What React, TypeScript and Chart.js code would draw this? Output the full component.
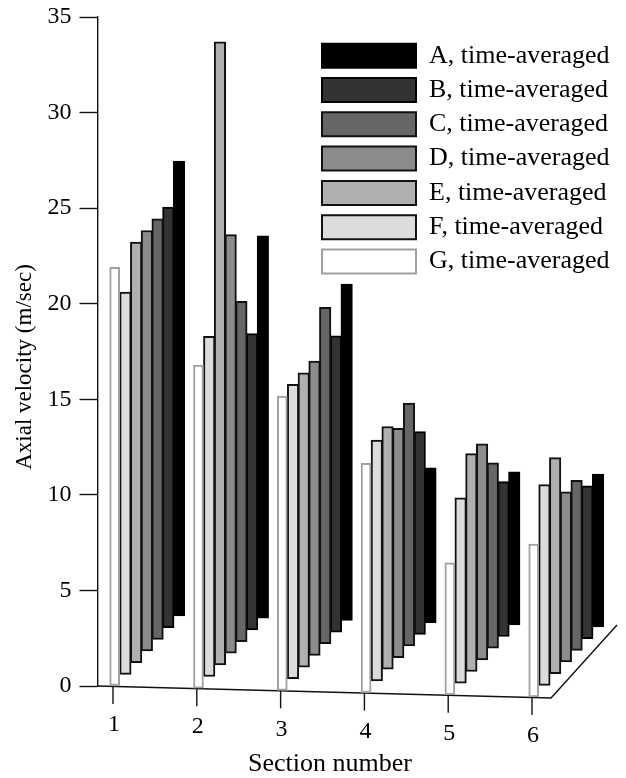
import React, { useEffect, useRef } from "react";
import { Chart, registerables } from "chart.js";

Chart.register(...registerables);

const sections = [1, 2, 3, 4, 5, 6];
const seriesNames = ["A", "B", "C", "D", "E", "F", "G"];
const seriesA = [23.8, 20.0, 17.6, 8.1, 8.0, 8.0];
const seriesB = [22.0, 15.5, 15.5, 10.6, 8.1, 8.0];
const seriesC = [22.0, 17.8, 17.6, 12.7, 9.7, 8.9];
const seriesD = [22.0, 21.9, 15.4, 12.0, 11.3, 8.9];
const seriesE = [22.0, 32.6, 15.4, 12.7, 11.4, 11.3];
const seriesF = [20.0, 17.8, 15.4, 12.6, 9.7, 10.5];
const seriesG = [21.9, 16.9, 15.4, 12.0, 6.9, 8.0];
const allSeries = [seriesA, seriesB, seriesC, seriesD, seriesE, seriesF, seriesG];
const fills = ["#000000", "#333333", "#666666", "#8c8c8c", "#b0b0b0", "#dcdcdc", "#ffffff"];
const borders = ["#000000", "#000000", "#111111", "#111111", "#111111", "#111111", "#a0a0a0"];

// oblique projection of the 3-D plot onto the flat scales
const DEPTH_DX = 0.128;
const DEPTH_DY = 0.61;
const SECTION_DROP = 0.115;
const FRONT_DX = 0.02;

const floorAt = (section: number, depth: number) => DEPTH_DY * depth - SECTION_DROP * (section - 1);

const SERIF = "'Liberation Serif', 'Times New Roman', serif";

const perspective = {
  id: "perspective",
  afterLayout(chart: any) {
    const lg = chart.legend;
    if (lg) {
      lg.left += 216.2;
      lg.right += 216.2;
      lg.top += 34.4;
      lg.bottom += 34.4;
    }
  },
  beforeDatasetsDraw(chart: any) {
    const { ctx, scales } = chart;
    const x = scales.x;
    const y = scales.y;
    ctx.save();
    ctx.strokeStyle = "#111";
    ctx.lineWidth = 1.4;
    ctx.beginPath();
    ctx.moveTo(x.left, y.getPixelForValue(0));
    ctx.lineTo(x.getPixelForValue(6.227), y.getPixelForValue(-0.63));
    ctx.lineTo(x.right, y.getPixelForValue(3.19));
    ctx.stroke();
    ctx.fillStyle = "#000";
    ctx.textAlign = "center";
    ctx.textBaseline = "middle";
    ctx.font = `24px ${SERIF}`;
    sections.forEach((s) => {
      const px = x.getPixelForValue(s);
      const py = y.getPixelForValue(floorAt(s, 0));
      ctx.beginPath();
      ctx.moveTo(px, py);
      ctx.lineTo(px, py + 18);
      ctx.stroke();
      ctx.fillText(String(s), px + 1, py + 39);
    });
    ctx.font = `26px ${SERIF}`;
    ctx.fillText("Section number", 330, 764);
    ctx.font = `23px ${SERIF}`;
    ctx.translate(25, 367);
    ctx.rotate(-Math.PI / 2);
    ctx.fillText("Axial velocity (m/sec)", 0, 0);
    ctx.restore();
  },
};

export default function App() {
  const ref = useRef<HTMLCanvasElement | null>(null);
  useEffect(() => {
    const datasets = seriesNames.map((name, k) => {
      const depth = 6 - k;
      return {
        label: `${name}, time-averaged`,
        order: depth,
        data: sections.map((s, i) => {
          const base = floorAt(s, depth);
          return { x: s + FRONT_DX + depth * DEPTH_DX, y: [base, base + allSeries[k][i]] };
        }),
        backgroundColor: fills[k],
        borderColor: borders[k],
        borderWidth: 2,
        borderSkipped: false,
        barThickness: depth === 0 ? 10 : 11.5,
        grouped: false,
        clip: false,
      };
    });
    const chart = new Chart(ref.current as HTMLCanvasElement, {
      type: "bar",
      data: { datasets } as any,
      plugins: [perspective],
      options: {
        animation: false,
        responsive: false,
        layout: { padding: { left: 0, top: 17, right: 9, bottom: 92 } },
        plugins: {
          tooltip: { enabled: false },
          legend: {
            position: "chartArea",
            align: "start",
            labels: {
              boxWidth: 94,
              boxHeight: 24,
              padding: 8.3,
              color: "#000",
              font: { family: SERIF, size: 26, lineHeight: 1 },
              sort: (a: any, b: any) => a.text.localeCompare(b.text),
            },
          },
        },
        scales: {
          x: { type: "linear", display: false, offset: false, min: 0.815, max: 7.014 },
          y: {
            type: "linear",
            min: 0,
            max: 35,
            afterFit: (s: any) => {
              s.width = 97.5;
              s.paddingTop = 0;
              s.paddingBottom = 0;
            },
            border: { color: "#111", width: 1.4 },
            grid: { drawOnChartArea: false, tickColor: "#111", tickLength: 18, tickWidth: 1.4 },
            ticks: {
              stepSize: 5,
              padding: 8,
              color: "#000",
              font: { family: SERIF, size: 24 },
            },
          },
        },
      } as any,
    });
    return () => chart.destroy();
  }, []);
  return (
    <div style={{ position: "absolute", left: 0, top: 0, width: 626, height: 778, background: "#fff" }}>
      <canvas ref={ref} width={626} height={778} style={{ display: "block" }} />
    </div>
  );
}
